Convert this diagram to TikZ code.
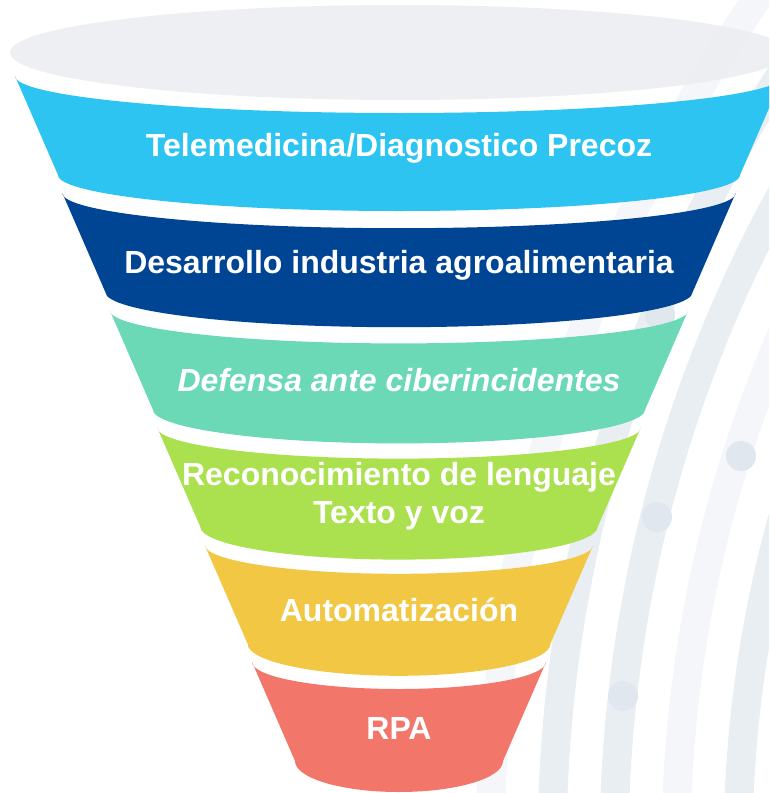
\documentclass[tikz,border=0pt]{standalone}
\usepackage{fontspec}
\setmainfont{Liberation Sans}
\usepackage{xcolor}
\usepackage{tikz}
\usetikzlibrary{positioning,calc}
\definecolor{fnCyan}{HTML}{2DC4F2}
\definecolor{fnNavy}{HTML}{004494}
\definecolor{fnMint}{HTML}{6BD9B6}
\definecolor{fnLime}{HTML}{ABE04E}
\definecolor{fnAmber}{HTML}{F2C744}
\definecolor{fnCoral}{HTML}{F2776A}
\definecolor{fnRim}{HTML}{ECEDF0}
\definecolor{bgBand}{HTML}{E9EEF3}
\definecolor{bgBandLight}{HTML}{F4F6FA}
\definecolor{bgDot}{HTML}{E0E7EE}

\begin{document}
\begin{tikzpicture}[
  x=1pt, y=1pt,
  band/.style={draw=bgBand, line width=29pt},
  bandlight/.style={draw=bgBandLight, line width=29pt},
  dot/.style={circle, fill=bgDot, minimum size=30pt, inner sep=0pt},
  rim/.style={fill=fnRim, fill opacity=0.88},
  label/.style={text=white, font=\fontsize{32}{38}\selectfont\bfseries, align=center, inner sep=0pt},
]
\useasboundingbox (0,0) rectangle (769,-793);
\clip (0,0) rectangle (769,-793);

% ── Background arcs ──────────────────────────────────────────────────────────
\coordinate (arcc) at (1976,-849);
\draw[band]      (arcc) circle[radius=1238];
\draw[bandlight] (arcc) circle[radius=1300];
\draw[band]      (arcc) circle[radius=1362];
\draw[band]      (arcc) circle[radius=1424];
\draw[bandlight] (arcc) circle[radius=1486];
\node[dot] (d1) at (660,-315) {};
\node[dot] (d2) at (741,-456) {};
\node[dot] (d3) at (657,-517) {};
\node[dot] (d4) at (623,-696) {};

% ── Funnel rim ───────────────────────────────────────────────────────────────
\fill[rim] (399,-52.5) ellipse[x radius=389, y radius=47.5];

% ── Funnel segments ──────────────────────────────────────────────────────────
\foreach \i/\col in {0/fnCyan,1/fnNavy,2/fnMint,3/fnLime,4/fnAmber,5/fnCoral}{
  \pgfmathsetmacro\yt{-(76+117.2*\i)}
  \pgfmathsetmacro\hwt{384-47.4*\i}
  \pgfmathsetmacro\hwb{\hwt-43}
  \pgfmathsetmacro\st{37-2*\i}
  \pgfmathsetmacro\sb{36-1*\i}
  \fill[\col] (399-\hwt,\yt) -- ++(43,-99)
    arc[start angle=180, end angle=360, x radius=\hwb, y radius=\sb]
    -- ++(43,99)
    arc[start angle=0, end angle=-180, x radius=\hwt, y radius=\st] -- cycle;
}

% ── Labels ───────────────────────────────────────────────────────────────────
\node[label] (telemed) at (399,-148) {Telemedicina/Diagnostico Precoz};
\node[label] (agro)    at (399,-265) {Desarrollo industria agroalimentaria};
\node[label] (ciber)   at (399,-380) {\itshape Defensa ante ciberincidentes};
\node[label] (lengua)  at (399,-496) {Reconocimiento de lenguaje\\Texto y voz};
\node[label] (auto)    at (399,-610) {Automatización};
\node[label] (rpa)     at (399,-728) {RPA};

\end{tikzpicture}
\end{document}
